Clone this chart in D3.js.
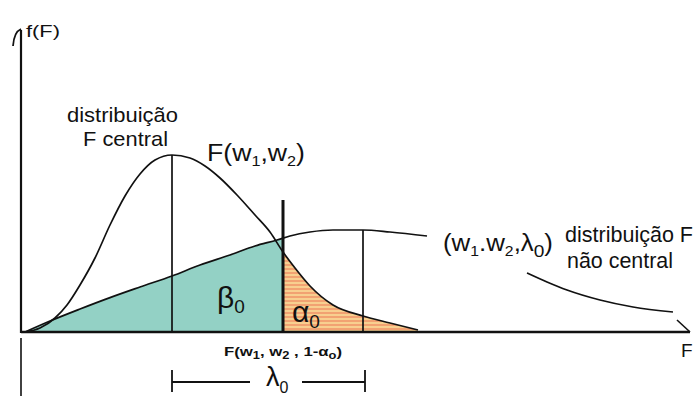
<!DOCTYPE html>
<html><head><meta charset="utf-8">
<script src="https://cdn.jsdelivr.net/npm/d3@7"></script>
<style>
html,body{margin:0;padding:0;background:#fff;}
svg{display:block;}
text{font-family:"Liberation Sans",Arial,sans-serif;fill:#111;}
</style></head><body>
<script>
// ---- data (F value, density) ----
const centralF   = [0.04,0.19,0.34,0.46,0.59,0.74,0.89,1.04,1.19,1.34,1.51,1.69,1.84,1.99,2.16,2.34,2.49,2.62,2.74,2.89,3.12,3.42,3.69,3.97];
const centralD   = [0,0.02,0.07,0.135,0.235,0.37,0.535,0.68,0.79,0.86,0.885,0.87,0.83,0.77,0.685,0.585,0.5,0.4,0.32,0.23,0.135,0.08,0.045,0.01];
const noncF1     = [0.04,0.29,0.59,0.89,1.19,1.51,1.79,2.09,2.34,2.56,2.69,2.89,3.12,3.42,3.69,4.06];
const noncD1     = [0,0.055,0.115,0.172,0.225,0.28,0.335,0.385,0.43,0.46,0.48,0.5,0.51,0.51,0.5,0.48];
const noncF2     = [5.06,5.26,5.46,5.79,6.12,6.52];
const noncD2     = [0.295,0.25,0.21,0.16,0.125,0.1];
const fCrit      = 2.62;   // F(w1,w2,1-alpha0)
const fCritTop   = 0.66;
const centralMean = 1.51;
const noncMean    = 3.42;

const W = 695, H = 396;
const x = d3.scaleLinear().domain([0, 6.69]).range([21, 690]);
const y = d3.scaleLinear().domain([0, 1.5]).range([332, 32]);

const svg = d3.select("body").append("svg").attr("width", W).attr("height", H);
const defs = svg.append("defs");
const pat = defs.append("pattern").attr("id","stripes").attr("patternUnits","userSpaceOnUse")
  .attr("width",6).attr("height",4);
pat.append("rect").attr("width",6).attr("height",4).attr("fill","#f2a272");
pat.append("rect").attr("y",2).attr("width",6).attr("height",2).attr("fill","#f8cf8f");

defs.append("clipPath").attr("id","leftClip").append("rect")
  .attr("x",0).attr("y",0).attr("width",x(fCrit)).attr("height",H);
defs.append("clipPath").attr("id","rightClip").append("rect")
  .attr("x",x(fCrit)).attr("y",0).attr("width",W).attr("height",H);

const central = centralF.map((f,i)=>[f,centralD[i]]);
const nonc1 = noncF1.map((f,i)=>[f,noncD1[i]]);
const nonc2 = noncF2.map((f,i)=>[f,noncD2[i]]);

const curve = d3.curveMonotoneX;
const area = d3.area().x(d=>x(d[0])).y0(y(0)).y1(d=>y(d[1])).curve(curve);
const line = d3.line().x(d=>x(d[0])).y(d=>y(d[1])).curve(curve);

// fills
svg.append("path").datum(nonc1).attr("d",area).attr("fill","#93d1c5").attr("clip-path","url(#leftClip)");
svg.append("path").datum(central).attr("d",area).attr("fill","url(#stripes)").attr("clip-path","url(#rightClip)");

// curves
const sw = 1.7;
svg.append("path").datum(central).attr("d",line).attr("fill","none").attr("stroke","#111").attr("stroke-width",sw);
svg.append("path").datum(nonc1).attr("d",line).attr("fill","none").attr("stroke","#111").attr("stroke-width",sw);
svg.append("path").datum(nonc2).attr("d",line).attr("fill","none").attr("stroke","#111").attr("stroke-width",sw);

// mean lines
const interp = (arrF, arrD, f) => { const i = d3.bisectLeft(arrF, f); if (arrF[i]===f) return arrD[i];
  const t=(f-arrF[i-1])/(arrF[i]-arrF[i-1]); return arrD[i-1]+t*(arrD[i]-arrD[i-1]); };
svg.append("line").attr("x1",x(centralMean)).attr("x2",x(centralMean))
  .attr("y1",y(0)).attr("y2",y(interp(centralF,centralD,centralMean))).attr("stroke","#111").attr("stroke-width",sw);
svg.append("line").attr("x1",x(noncMean)).attr("x2",x(noncMean))
  .attr("y1",y(0)).attr("y2",y(interp(noncF1,noncD1,noncMean))).attr("stroke","#111").attr("stroke-width",sw);
// critical line
svg.append("line").attr("x1",x(fCrit)).attr("x2",x(fCrit))
  .attr("y1",y(0)).attr("y2",y(fCritTop)).attr("stroke","#111").attr("stroke-width",3);

// axes
svg.append("line").attr("x1",x(0)).attr("x2",x(6.69)).attr("y1",y(0)).attr("y2",y(0)).attr("stroke","#111").attr("stroke-width",2.6);
svg.append("line").attr("x1",x(0)).attr("x2",x(0)).attr("y1",y(0)+1).attr("y2",y(1.51)).attr("stroke","#111").attr("stroke-width",2.2);
svg.append("line").attr("x1",x(0)).attr("x2",x(0)).attr("y1",y(0)+6).attr("y2",H).attr("stroke","#111").attr("stroke-width",1.6);
// arrow heads
svg.append("path").attr("d",`M${x(0)-8},${y(1.51)+16} Q${x(0)-7},${y(1.51)+2} ${x(0)},${y(1.51)-1}`)
  .attr("fill","none").attr("stroke","#111").attr("stroke-width",1.8);
svg.append("line").attr("x1",x(6.69)-13).attr("y1",y(0)-12).attr("x2",x(6.69)).attr("y2",y(0))
  .attr("stroke","#111").attr("stroke-width",1.6);

// bracket for lambda0
const by = 382;
svg.append("line").attr("x1",x(centralMean)).attr("x2",x(centralMean)).attr("y1",370).attr("y2",392).attr("stroke","#111").attr("stroke-width",1.8);
svg.append("line").attr("x1",x(noncMean)+2).attr("x2",x(noncMean)+2).attr("y1",370).attr("y2",392).attr("stroke","#111").attr("stroke-width",1.8);
svg.append("line").attr("x1",x(centralMean)).attr("x2",250).attr("y1",by).attr("y2",by).attr("stroke","#111").attr("stroke-width",1.8);
svg.append("line").attr("x1",302).attr("x2",x(noncMean)+2).attr("y1",by).attr("y2",by).attr("stroke","#111").attr("stroke-width",1.8);

// text helper: parts = [[text, size, dy]]
function label(xp, yp, parts, opts={}) {
  const t = svg.append("text").attr("x",xp).attr("y",yp);
  if (opts.weight) t.attr("font-weight",opts.weight);
  parts.forEach(p=>{ t.append("tspan").attr("font-size",p[1]).attr("dy",p[2]||0).text(p[0]); });
  if (opts.len) t.attr("textLength",opts.len).attr("lengthAdjust","spacingAndGlyphs");
  return t;
}
label(26, 37, [["f(F)",17]], {len:34});
label(67, 122, [["distribuição",21]], {len:111});
label(83, 146, [["F central",21]], {len:85});
label(207, 161, [["F(w",23],["1",14,5],[",w",23,-5],["2",14,5],[")",23,-5]], {len:98});
label(217, 308, [["β",30],["0",19,5]]);
label(292, 322, [["α",30],["0",19,6]]);
label(443, 251, [["(w",23],["1",14,5],[".w",23,-5],["2",14,5],[",λ",23,-5],["0",17,6],[")",23,-6]], {len:110});
label(565, 242, [["distribuição F",22]], {len:128});
label(567, 268, [["não central",22]], {len:106});
label(224, 356, [["F(w",13],["1",10,3],[", w",13,-3],["2",10,3],[" , 1-α",13,-3],["o",10,3],[")",13,-3]], {weight:"bold", len:118});
label(266, 386, [["λ",27],["0",16,7]]);
label(681, 357, [["F",19]]);
</script>
</body></html>
